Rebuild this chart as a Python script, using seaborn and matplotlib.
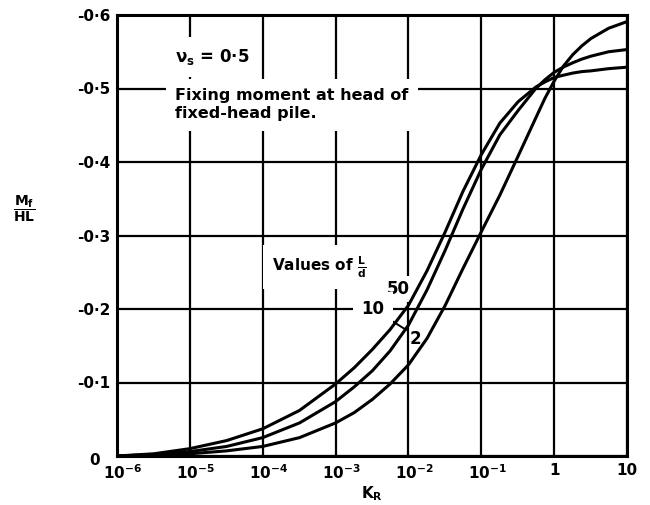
import matplotlib
matplotlib.use("Agg")
import matplotlib.pyplot as plt
import matplotlib.transforms as mtransforms
from matplotlib.ticker import NullLocator
import pandas as pd
import seaborn as sns

# ---- data ----
kr = [1e-6, 3.2e-6, 1e-5, 3.2e-5, 1e-4, 3.2e-4, 1e-3, 1.8e-3, 3.2e-3, 5.6e-3,
      1e-2, 1.8e-2, 3.2e-2, 5.6e-2, 0.1, 0.18, 0.32, 0.56, 0.75, 1,
      1.33, 1.8, 2.4, 3.2, 5.6, 10]
m_ld2 = [0, -0.001, -0.003, -0.007, -0.013, -0.025, -0.045, -0.059, -0.077, -0.098,
         -0.124, -0.16, -0.205, -0.255, -0.305, -0.355, -0.408, -0.46, -0.487, -0.51,
         -0.53, -0.546, -0.558, -0.568, -0.582, -0.591]
m_ld10 = [0, -0.002, -0.006, -0.013, -0.025, -0.045, -0.074, -0.094, -0.116, -0.143,
          -0.178, -0.226, -0.28, -0.336, -0.39, -0.437, -0.47, -0.50, -0.512, -0.522,
          -0.529, -0.535, -0.54, -0.544, -0.55, -0.553]
m_ld50 = [0, -0.003, -0.010, -0.021, -0.037, -0.062, -0.098, -0.12, -0.145, -0.172,
          -0.205, -0.252, -0.305, -0.36, -0.41, -0.453, -0.482, -0.502, -0.509, -0.515,
          -0.518, -0.521, -0.523, -0.524, -0.527, -0.529]
series_names = ["2", "10", "50"]

x_ticks = [1e-6, 1e-5, 1e-4, 1e-3, 1e-2, 1e-1, 1, 10]
x_tick_labels = [r"$10^{-6}$", r"$10^{-5}$", r"$10^{-4}$", r"$10^{-3}$",
                 r"$10^{-2}$", r"$10^{-1}$", "1", "10"]
y_ticks = [0, -0.1, -0.2, -0.3, -0.4, -0.5, -0.6]
y_tick_labels = ["0", "-0·1", "-0·2", "-0·3", "-0·4", "-0·5", "-0·6"]

df = pd.DataFrame({
    "K_R": kr * 3,
    "M": m_ld2 + m_ld10 + m_ld50,
    "L/d": [series_names[0]] * len(kr) + [series_names[1]] * len(kr) + [series_names[2]] * len(kr),
})

sns.set_theme(style="white")
plt.rcParams["font.family"] = ["DejaVu Sans"]
plt.rcParams["font.weight"] = "bold"
plt.rcParams["text.color"] = "black"
plt.rcParams["axes.labelcolor"] = "black"
plt.rcParams["xtick.color"] = "black"
plt.rcParams["ytick.color"] = "black"
plt.rcParams["mathtext.fontset"] = "custom"
plt.rcParams["mathtext.rm"] = "DejaVu Sans:bold"
plt.rcParams["mathtext.it"] = "DejaVu Sans:bold"
plt.rcParams["mathtext.bf"] = "DejaVu Sans:bold"

fig = plt.figure(figsize=(6.5, 5.05), dpi=100)
ax = fig.add_axes([117 / 650, 49 / 505, 510 / 650, 441 / 505])
ax.set_xscale("log")

sns.lineplot(data=df, x="K_R", y="M", hue="L/d",
             palette={n: "black" for n in series_names},
             linewidth=2.2, legend=False, estimator=None, ax=ax, zorder=4)

ax.set_xlim(1e-6, 10)
ax.set_ylim(0, -0.6)
ax.set_xticks(x_ticks)
ax.set_xticklabels(x_tick_labels)
ax.xaxis.set_minor_locator(NullLocator())
ax.set_yticks(y_ticks)
ax.set_yticklabels(y_tick_labels)
ax.tick_params(axis="both", length=0, labelsize=11, colors="black")
ax.tick_params(axis="x", pad=5)
ax.tick_params(axis="y", pad=5)

for lab in ax.get_xticklabels()[:6]:
    lab.set_transform(lab.get_transform() + mtransforms.ScaledTranslation(6 / 100, 0, fig.dpi_scale_trans))
ylab0 = ax.get_yticklabels()[0]
ylab0.set_transform(ylab0.get_transform() + mtransforms.ScaledTranslation(-10 / 100, -3 / 100, fig.dpi_scale_trans))

ax.grid(True, which="major", color="black", linewidth=1.6)
ax.set_axisbelow(True)
for sp in ax.spines.values():
    sp.set_color("black")
    sp.set_linewidth(2.2)

ax.set_xlabel(r"$K_R$", fontsize=11, labelpad=2)
ax.set_ylabel("")
fig.text(24 / 650, 1 - 209 / 505, r"$\dfrac{M_f}{HL}$", ha="center", va="center", fontsize=10)

white = dict(boxstyle="square,pad=0.6", facecolor="white", edgecolor="none")
ax.text(0.186, 0.905, r"$\nu_s$ = 0·5", transform=ax.transAxes, ha="center", va="center",
        fontsize=12, bbox=white, zorder=3)
ax.text(0.114, 0.796, "Fixing moment at head of\nfixed-head pile.", transform=ax.transAxes,
        ha="left", va="center", fontsize=11.5, linespacing=1.25, bbox=white, zorder=3)
ax.text(0.304, 0.429, r"Values of $\frac{L}{d}$", transform=ax.transAxes, ha="left", va="center",
        fontsize=11, bbox=white, zorder=3)
ax.text(0.551, 0.379, "50", transform=ax.transAxes, ha="center", va="center", fontsize=12,
        bbox=dict(boxstyle="square,pad=0.25", facecolor="white", edgecolor="none"), zorder=3)
ax.annotate("10", xy=(0.567, 0.286), xytext=(0.502, 0.333), xycoords="axes fraction",
            textcoords="axes fraction", ha="center", va="center", fontsize=12,
            bbox=dict(boxstyle="square,pad=0.5", facecolor="white", edgecolor="none"),
            arrowprops=dict(arrowstyle="-", color="black", lw=1.4, shrinkA=0, shrinkB=0), zorder=3)
ax.text(0.586, 0.265, "2", transform=ax.transAxes, ha="center", va="center", fontsize=12, zorder=3)

fig.savefig("out.png", dpi=100, facecolor="white")
